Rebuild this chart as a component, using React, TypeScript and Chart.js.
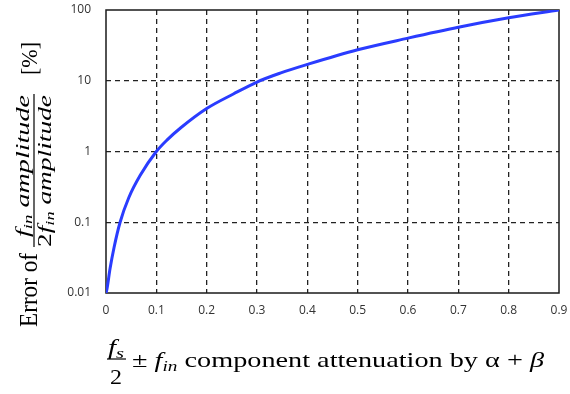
import React, { useEffect, useRef } from "react";
import { Chart, registerables } from "chart.js";

Chart.register(...registerables);

// Attenuation of the fs/2 ± fin component (x) and resulting amplitude error in % (y)
const attenuation = [0, 0.002, 0.008, 0.016, 0.028, 0.045, 0.068, 0.1, 0.121, 0.148, 0.2, 0.253, 0.3, 0.346, 0.4, 0.5, 0.6, 0.7, 0.8, 0.9];
const errorPercent = [0.01, 0.0115, 0.022, 0.044, 0.1, 0.22, 0.46, 1.0, 1.45, 2.15, 4.05, 6.5, 9.6, 12.8, 17.0, 27.4, 40, 57, 77.5, 100];

const xTickValues = [0, 0.1, 0.2, 0.3, 0.4, 0.5, 0.6, 0.7, 0.8, 0.9];
const xTickLabels = ["0", "0.1", "0.2", "0.3", "0.4", "0.5", "0.6", "0.7", "0.8", "0.9"];
const yTickValues = [0.01, 0.1, 1, 10, 100];
const yTickLabels = ["0.01", "0.1", "1", "10", "100"];

type Seg = { t: string; font: string; dy?: number };

const SERIF = "'Liberation Serif', 'Times New Roman', serif";
const TICK_FONT = "'Open Sans', 'Noto Sans', sans-serif";

function runWidth(ctx: CanvasRenderingContext2D, segs: Seg[]) {
  let w = 0;
  for (const s of segs) {
    ctx.font = s.font;
    w += ctx.measureText(s.t).width;
  }
  return w;
}

// Draws a run of text pieces, optionally fitted horizontally to a given width
function drawRun(ctx: CanvasRenderingContext2D, segs: Seg[], x: number, y: number, width?: number) {
  const natural = runWidth(ctx, segs);
  const k = width ? width / natural : 1;
  ctx.save();
  ctx.translate(x, y);
  ctx.scale(k, 1);
  ctx.textBaseline = "alphabetic";
  ctx.textAlign = "left";
  let cx = 0;
  for (const s of segs) {
    ctx.font = s.font;
    ctx.fillText(s.t, cx, s.dy || 0);
    cx += ctx.measureText(s.t).width;
  }
  ctx.restore();
  return natural * k;
}

const it = (px: number) => `italic ${px}px ${SERIF}`;
const rg = (px: number) => `${px}px ${SERIF}`;

function hLine(ctx: CanvasRenderingContext2D, x0: number, x1: number, y: number) {
  ctx.lineWidth = 1.2;
  ctx.beginPath();
  ctx.moveTo(x0, y);
  ctx.lineTo(x1, y);
  ctx.stroke();
}

const titlesPlugin = {
  id: "titles",
  beforeDatasetsDraw(chart: Chart) {
    const { ctx, chartArea } = chart;
    ctx.save();
    ctx.strokeStyle = "#1a1a1a";
    ctx.lineWidth = 1.5;
    ctx.strokeRect(chartArea.left, chartArea.top, chartArea.right - chartArea.left, chartArea.bottom - chartArea.top);
    ctx.restore();
  },
  afterDraw(chart: Chart) {
    const { ctx } = chart;
    ctx.save();
    ctx.fillStyle = "#000";
    ctx.strokeStyle = "#000";

    // Vertical title, read bottom to top
    ctx.save();
    ctx.translate(0, 327);
    ctx.rotate(-Math.PI / 2);
    drawRun(ctx, [{ t: "Error of", font: rg(26) }], 0, 37, 74);
    const num: Seg[] = [
      { t: "f", font: it(18) },
      { t: "in", font: it(12), dy: 3 },
      { t: " amplitude", font: it(18) },
    ];
    const den: Seg[] = [
      { t: "2", font: rg(18) },
      { t: "f", font: it(18) },
      { t: "in", font: it(12), dy: 3 },
      { t: " amplitude", font: it(18) },
    ];
    drawRun(ctx, den, 80, 51, 152);
    drawRun(ctx, num, 90, 29, 142);
    hLine(ctx, 80, 233, 34);
    drawRun(ctx, [{ t: "[%]", font: rg(24) }], 252, 37, 33);
    ctx.restore();

    // Horizontal title
    drawRun(ctx, [{ t: "f", font: it(21) }, { t: "s", font: it(15), dy: 4 }], 108, 354, 16);
    drawRun(ctx, [{ t: "2", font: rg(22) }], 110, 384, 12);
    hLine(ctx, 107, 126, 359);
    drawRun(
      ctx,
      [
        { t: "± ", font: rg(22) },
        { t: "f", font: it(22) },
        { t: "in", font: it(15), dy: 4 },
        { t: " component attenuation by α + ", font: rg(22) },
        { t: "β", font: it(22) },
      ],
      132,
      367,
      412
    );
    ctx.restore();
  },
};

export default function App() {
  const ref = useRef<HTMLCanvasElement | null>(null);

  useEffect(() => {
    document.body.style.margin = "0";
    const canvas = ref.current;
    if (!canvas) return;
    const chart = new Chart(canvas, {
      type: "line",
      data: {
        datasets: [
          {
            data: attenuation.map((x, i) => ({ x, y: errorPercent[i] })),
            borderColor: "#2a3cff",
            borderWidth: 3,
            pointRadius: 0,
            fill: false,
            cubicInterpolationMode: "monotone",
          },
        ],
      },
      options: {
        responsive: false,
        animation: false,
        devicePixelRatio: 1,
        layout: { padding: { top: 10, right: 11, left: 0, bottom: 0 } },
        plugins: { legend: { display: false }, tooltip: { enabled: false } },
        scales: {
          x: {
            type: "linear",
            min: 0,
            max: 0.9,
            afterBuildTicks: (s: any) => {
              s.ticks = xTickValues.map((value) => ({ value }));
            },
            afterFit: (s: any) => {
              s.height = 101;
              s.paddingLeft = 0;
              s.paddingRight = 0;
            },
            ticks: {
              callback: (_v: any, i: number) => xTickLabels[i],
              font: { family: TICK_FONT, size: 12 },
              color: "#333",
              padding: 10,
              maxRotation: 0,
            },
            grid: {
              drawTicks: false,
              lineWidth: 1.3,
              color: (c: any) => (c.index === 0 || c.index === xTickValues.length - 1 ? "rgba(0,0,0,0)" : "#222"),
            },
            border: { display: false, dash: [5, 4] },
          },
          y: {
            type: "logarithmic",
            min: 0.01,
            max: 100,
            afterBuildTicks: (s: any) => {
              s.ticks = yTickValues.map((value) => ({ value }));
            },
            afterFit: (s: any) => {
              s.width = 106;
              s.paddingTop = 0;
              s.paddingBottom = 0;
            },
            ticks: {
              callback: (_v: any, i: number) => yTickLabels[i],
              font: { family: TICK_FONT, size: 12 },
              color: "#333",
              padding: 15,
            },
            grid: {
              drawTicks: false,
              lineWidth: 1.3,
              color: (c: any) => (c.index === 0 || c.index === yTickValues.length - 1 ? "rgba(0,0,0,0)" : "#222"),
            },
            border: { display: false, dash: [5, 4] },
          },
        },
      },
      plugins: [titlesPlugin],
    });
    return () => chart.destroy();
  }, []);

  return (
    <div style={{ position: "fixed", left: 0, top: 0, width: 570, height: 394, background: "#fff" }}>
      <canvas ref={ref} width={570} height={394} style={{ display: "block" }} />
    </div>
  );
}
